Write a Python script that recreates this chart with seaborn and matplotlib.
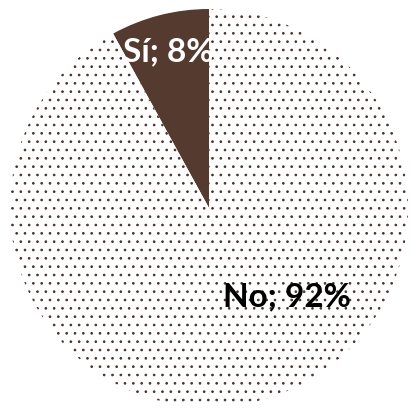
import matplotlib
matplotlib.use("Agg")
import matplotlib.pyplot as plt
import seaborn as sns

# data
categories = ["Sí", "No"]
shares = [8, 92]
slice_colors = ["#553A2F", "#FFFFFF"]
hatch_colors = ["#553A2F", "#4A3229"]
label_colors = ["#FFFFFF", "#000000"]
# label anchors in axes data units (Excel moved the "No" label)
label_pos = [(-0.205, 0.785), (0.392, -0.447)]

sns.set_theme(style="white")
plt.rcParams["font.family"] = ["Lato", "DejaVu Sans"]
plt.rcParams["hatch.linewidth"] = 0.7

fig = plt.figure(figsize=(4.12, 4.11), dpi=100)
W, H = 412, 411
cx, cy, r = 209, 208, 199
ax = fig.add_axes([(cx - r) / W, (H - cy - r) / H, 2 * r / W, 2 * r / H])

wedges, _ = ax.pie(
    shares,
    colors=slice_colors,
    startangle=90,
    counterclock=True,
    radius=1.0,
    wedgeprops={"linewidth": 0},
)
wedges[1].set_hatch("..")
wedges[1].set_edgecolor(hatch_colors[1])
wedges[1].set_linewidth(0)

for name, val, col, (x, y) in zip(categories, shares, label_colors, label_pos):
    ax.text(x, y, f"{name}; {val}%", color=col, fontsize=24, fontweight="bold",
            ha="center", va="center")

ax.set_xlim(-1, 1)
ax.set_ylim(-1, 1)
ax.set_aspect("auto")
ax.axis("off")

fig.savefig("out.png", dpi=100, facecolor="white")
